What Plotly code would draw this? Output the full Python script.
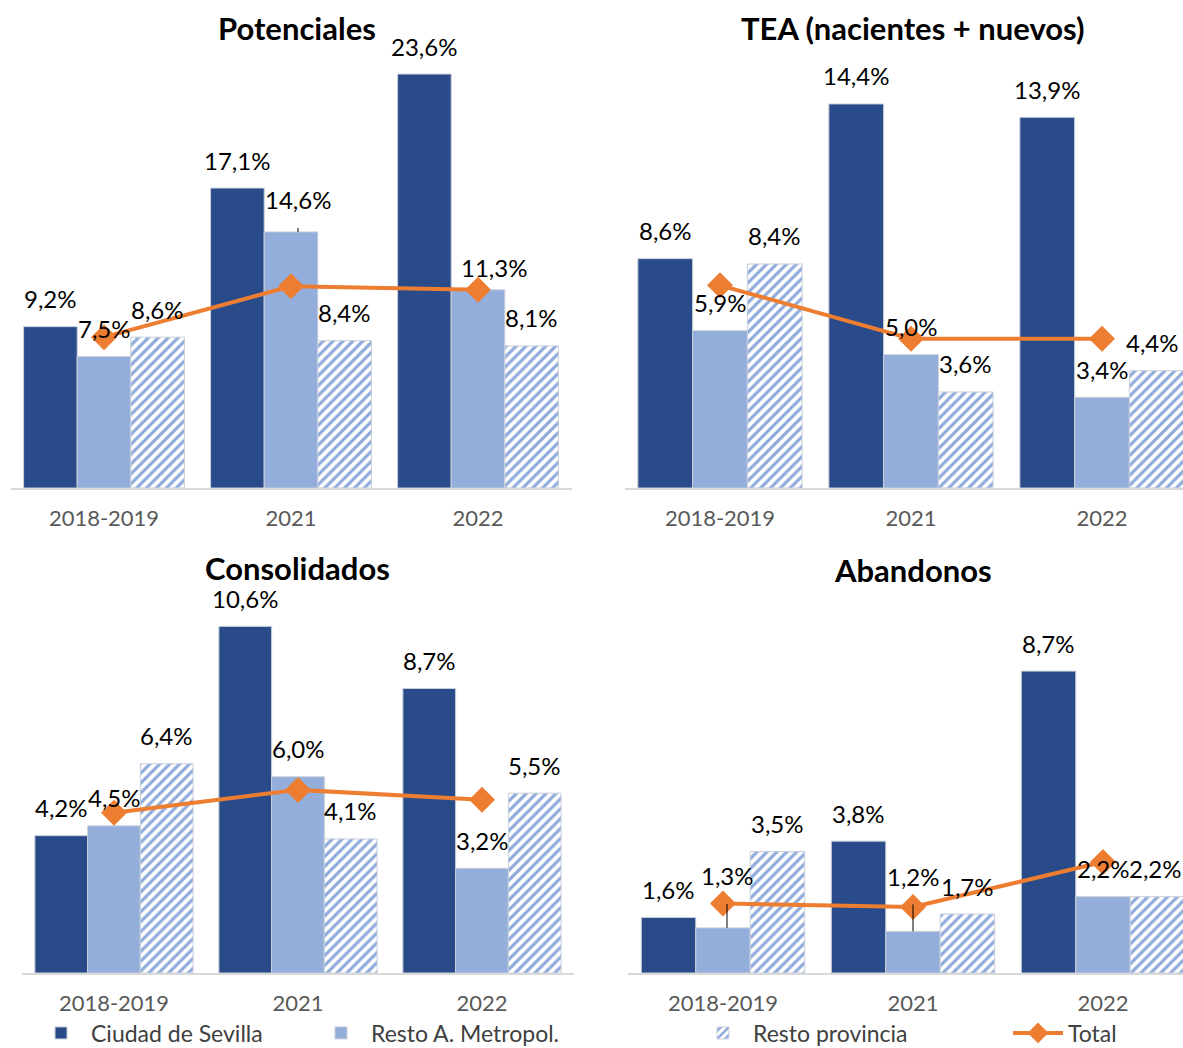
import plotly.graph_objects as go

W, H = 1183, 1048

categories = ["2018-2019", "2021", "2022"]
series_names = ["Ciudad de Sevilla", "Resto A. Metropol.", "Resto provincia", "Total"]
panel_titles = ["Potenciales", "TEA (nacientes + nuevos)", "Consolidados", "Abandonos"]

# values per panel (%)
potenciales_ciudad = [9.2, 17.1, 23.6]
potenciales_resto_am = [7.5, 14.6, 11.3]
potenciales_resto_prov = [8.6, 8.4, 8.1]
potenciales_total = [8.6, 11.5, 11.3]

tea_ciudad = [8.6, 14.4, 13.9]
tea_resto_am = [5.9, 5.0, 3.4]
tea_resto_prov = [8.4, 3.6, 4.4]
tea_total = [7.6, 5.6, 5.6]

consolidados_ciudad = [4.2, 10.6, 8.7]
consolidados_resto_am = [4.5, 6.0, 3.2]
consolidados_resto_prov = [6.4, 4.1, 5.5]
consolidados_total = [4.9, 5.6, 5.3]

abandonos_ciudad = [1.6, 3.8, 8.7]
abandonos_resto_am = [1.3, 1.2, 2.2]
abandonos_resto_prov = [3.5, 1.7, 2.2]
abandonos_total = [2.0, 1.9, 3.2]

panels = [
    (potenciales_ciudad, potenciales_resto_am, potenciales_resto_prov, potenciales_total),
    (tea_ciudad, tea_resto_am, tea_resto_prov, tea_total),
    (consolidados_ciudad, consolidados_resto_am, consolidados_resto_prov, consolidados_total),
    (abandonos_ciudad, abandonos_resto_am, abandonos_resto_prov, abandonos_total),
]

def fmt(v):
    return f"{v:.1f}".replace(".", ",") + "%"

FONT = "Lato, 'Open Sans', sans-serif"
DARK = "#2a4b8a"
LIGHT = "#94aedc"
STRIPE = "#8eaadb"
ORANGE = "#ed7d31"
BARGAP = 0.14

# layout geometry (pixels)
# (x_left, x_right, baseline_y, top_y, px_per_unit, cat_width, first_cat_center)
geo = [
    (10.5, 571.5, 488, 40, 17.54, 187, 104),
    (624.5, 1183, 488, 40, 26.67, 191, 720),
    (22, 574, 973, 585, 32.7, 184, 114),
    (628, 1183, 973, 585, 34.7, 190, 723),
]

# label styling: (panel, series, category) -> (extra x px, label height above bar top px)
label_leaders = {(3, 1, 0): (4, 52), (3, 1, 1): (0, 55), (0, 1, 1): (7, 32)}
label_nudges = {(0, 1, 2): (16, 22), (1, 2, 2): (-4, 28), (3, 2, 2): (-2, 28)}

fig = go.Figure()
layout_axes = {}
annotations = []
for i, (vals, g) in enumerate(zip(panels, geo)):
    xl, xr, yb, yt, ppu, cw, c0 = g
    ax = "" if i == 0 else str(i + 1)
    xa, ya = "x" + ax, "y" + ax
    show = i == 0
    ciudad, resto_am, resto_prov, total = vals
    common = dict(x=categories, xaxis=xa, yaxis=ya, hoverinfo="skip")
    fig.add_trace(go.Bar(y=ciudad, name=series_names[0],
                         marker=dict(color=DARK, line=dict(color="#c9cfd9", width=1)),
                         showlegend=show, legend="legend", **common))
    fig.add_trace(go.Bar(y=resto_am, name=series_names[1],
                         marker=dict(color=LIGHT, line=dict(color="#c9cfd9", width=1)),
                         showlegend=show, legend="legend2", **common))
    fig.add_trace(go.Bar(y=resto_prov, name=series_names[2],
                         marker=dict(color="white", line=dict(color="#c9cfd9", width=1),
                                     pattern=dict(shape="/", fgcolor=STRIPE, bgcolor="white",
                                                  size=7, solidity=0.45, fillmode="replace")),
                         showlegend=show, legend="legend3", **common))
    fig.add_trace(go.Scatter(x=categories, y=total, xaxis=xa, yaxis=ya, name=series_names[3],
                             mode="lines+markers", line=dict(color=ORANGE, width=4),
                             marker=dict(symbol="diamond", size=20, color=ORANGE),
                             showlegend=show, legend="legend4", cliponaxis=False,
                             hoverinfo="skip"))
    bw = cw * (1 - BARGAP) / 3
    for s, series in enumerate((ciudad, resto_am, resto_prov)):
        for c, v in enumerate(series):
            key = (i, s, c)
            dx, up = label_leaders.get(key, label_nudges.get(key, (0, 28)))
            ann = dict(x=c, y=v, xref=xa, yref=ya, text=fmt(v),
                       xshift=(s - 1) * bw + dx, font=dict(size=24, color="black", family=FONT))
            if key in label_leaders:
                ann.update(showarrow=True, arrowhead=0, arrowwidth=1, arrowcolor="black",
                           ax=0, ay=-up, standoff=0, startstandoff=12)
            else:
                ann.update(showarrow=False, yshift=up, yanchor="middle")
            annotations.append(ann)
    right_c = (xr - c0) / cw
    left_c = (xl - c0) / cw
    layout_axes["xaxis" + ax] = dict(
        domain=[xl / W, xr / W], anchor=ya, type="category",
        range=[left_c, right_c], showline=True, linecolor="#d9d9d9", linewidth=2,
        showgrid=False, zeroline=False, ticks="outside", ticklen=10,
        tickcolor="rgba(0,0,0,0)",
        tickfont=dict(size=22, color="#595959", family=FONT), fixedrange=True)
    layout_axes["yaxis" + ax] = dict(
        domain=[1 - yb / H, 1 - yt / H], anchor=xa,
        range=[0, (yb - yt) / ppu], visible=False, showgrid=False, zeroline=False,
        fixedrange=True)

title_pos = [(297, 28), (913, 28), (297, 568), (913, 570)]
for t, (px, py) in zip(panel_titles, title_pos):
    annotations.append(dict(text=f"<b>{t}</b>", x=px / W, y=1 - py / H, xref="paper",
                            yref="paper", xanchor="center", yanchor="middle",
                            showarrow=False, font=dict(size=31, color="black", family=FONT)))

legend_x = [35, 315, 697, 1012]
leg_common = dict(orientation="h", yanchor="middle", y=1 - 1033 / H, xanchor="left",
                  font=dict(size=23, color="#404040", family=FONT),
                  bgcolor="rgba(0,0,0,0)", itemwidth=50, tracegroupgap=0)
legends = {}
for j, lx in enumerate(legend_x):
    key = "legend" if j == 0 else f"legend{j + 1}"
    legends[key] = dict(x=(lx - 4) / W, **leg_common)

fig.update_layout(
    width=W, height=H, margin=dict(l=0, r=0, t=0, b=0, autoexpand=False),
    paper_bgcolor="white", plot_bgcolor="white",
    barmode="group", bargap=BARGAP, bargroupgap=0,
    annotations=annotations,
    font=dict(family=FONT),
    **layout_axes, **legends,
)

post = """
document.body.style.margin='0';
document.documentElement.style.overflow='hidden';
document.body.style.overflow='hidden';
"""
fig.write_html("out.html", post_script=post, config={"displayModeBar": False})
